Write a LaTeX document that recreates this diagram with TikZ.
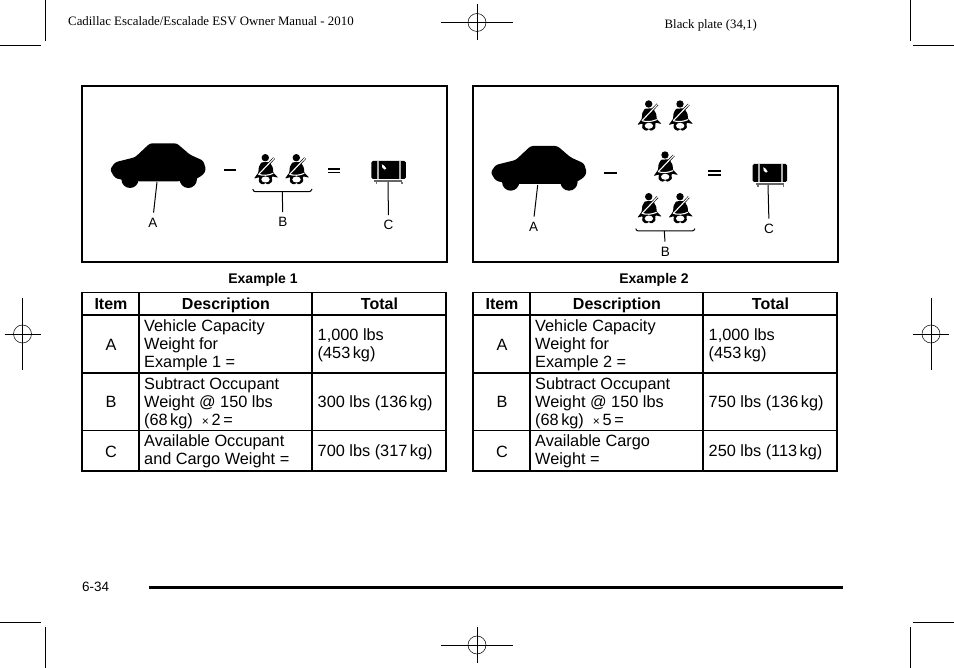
\documentclass[tikz,border=0pt]{standalone}
\usepackage{fontspec}
\setmainfont{Liberation Sans}
\newfontfamily\hdrfont{Liberation Serif}
\usetikzlibrary{positioning,calc}

\tikzset{
  framebox/.style={line width=1.6pt},
  gridline/.style={line width=1.7pt},
  cropline/.style={line width=0.9pt},
  leader/.style={line width=1pt, shorten >=5pt},
  signline/.style={line width=1.1pt},
  celltext/.style={inner sep=0pt, anchor=west, align=left, font=\fontsize{16.3}{17.7}\selectfont},
  itemtext/.style={inner sep=0pt, font=\fontsize{16.3}{18}\selectfont},
  headtext/.style={inner sep=0pt, anchor=base, font=\fontsize{16}{18}\selectfont\bfseries},
  captext/.style={inner sep=0pt, anchor=base, font=\fontsize{14}{16}\selectfont\bfseries},
  lettertext/.style={inner sep=0pt, font=\fontsize{13.5}{14}\selectfont},
  pics/caricon/.style={code={
    \fill[black, rounded corners=2.5pt] (0.7,26.4) -- (5.7,19) -- (25.7,14) -- (40.7,0) -- (67.4,0) -- (80.7,11.4) -- (94,17.4)
      -- (96.7,26.4) -- (94,31.4) -- (85.7,36.4) -- (70,38) -- (29,38) -- (12.4,36.4) -- (5.7,34.7) -- cycle;
    \fill[black] (20.7,36.1) circle (8.6);
    \fill[black] (79,36.1) circle (8.6);
  }},
  pics/seaticon/.style={code={
    \fill[black] (0,0) circle (3.7);
    \fill[black, rounded corners=0.8pt] (-3.8,4.6) -- (4.4,4.4) -- (7.6,10) -- (8,15) -- (13,20) -- (6.6,18.6)
      -- (6.8,24) -- (3.4,26.6) -- (1,26.4) -- (0.2,24.6) -- (-0.8,26.4) -- (-3.6,26.6) -- (-6.6,24) -- (-6,19.4) -- (-11.4,21) -- (-7,15) -- (-6.4,9) -- cycle;
    \draw[black, line width=2.4pt] (8.8,0.4) -- (3.5,6);
    \draw[white, line width=1.1pt] (8.8,0.4) -- (-6.4,16.4);
    \draw[white, line width=1.1pt] (-7,16.6) .. controls (-2,18.2) and (3,17.8) .. (8,15.6);
    \fill[white] (0.2,21.8) ellipse (4.2 and 3);
  }},
  pics/cargoicon/.style={code={
    \fill[black, rounded corners=1.5pt] (0,0) rectangle (34.5,18);
    \fill[gray!65] (5.6,0) rectangle (7.4,18);
    \fill[gray!65] (28,0) rectangle (29.8,18);
    \fill[white] (10.6,3.2) -- (13,4.8) -- (15,7.6) -- (13.2,8.6) -- (11,6.6) -- cycle;
    \fill[black!60] (3,18.8) rectangle (31,20.8);
    \fill[black!55] (4.4,21.2) rectangle (5.8,23);
    \fill[black!55] (30,21.2) rectangle (31.4,23);
  }},
}

\begin{document}
\begin{tikzpicture}[x=1pt, y=-1pt]
\path[use as bounding box, fill=white] (0, 0) rectangle (954, 668);

% crop marks
\draw[cropline] (45, 0) -- (45, 41);
\draw[cropline] (0, 45) -- (41, 45);
\draw[cropline] (910, 0) -- (910, 41);
\draw[cropline] (913, 45) -- (954, 45);
\draw[cropline] (45, 627) -- (45, 668);
\draw[cropline] (0, 622) -- (41, 622);
\draw[cropline] (910, 627) -- (910, 668);
\draw[cropline] (913, 622) -- (954, 622);

% registration targets
\foreach \cx/\cy in {477/22.5, 477/645} {
  \draw[line width=0.5pt] (\cx, \cy) circle (9);
  \draw[cropline] (\cx, \cy-18) -- (\cx, \cy+18);
  \draw[cropline] (\cx-36, \cy) -- (\cx+36, \cy);
}
\foreach \cx/\cy in {22.5/334, 931/334} {
  \draw[line width=0.5pt] (\cx, \cy) circle (9);
  \draw[cropline] (\cx, \cy-36) -- (\cx, \cy+36);
  \draw[cropline] (\cx-18, \cy) -- (\cx+18, \cy);
}

% page header
\node[inner sep=0pt, anchor=west, font=\fontsize{12.85}{14}\selectfont\hdrfont] (manualtitle) at (68, 21.5) {Cadillac Escalade/Escalade ESV Owner Manual - 2010};
\node[inner sep=0pt, anchor=west, font=\fontsize{12.8}{14}\selectfont\hdrfont] (platetitle) at (664.5, 25) {Black plate (34,1)};

% example 1 picture
\draw[framebox] (82, 86) rectangle (447, 262);
\pic at (109.3, 143.3) {caricon};
\pic at (265.3, 157.7) {seaticon};
\pic at (296.3, 157.7) {seaticon};
\pic at (371.3, 161) {cargoicon};
\draw[signline] (224, 170) -- (236, 170);
\draw[signline] (328, 169) -- (340, 169);
\draw[signline] (328, 172.8) -- (340, 172.8);
\draw[line width=1pt] (252.7, 189) .. controls (253.5, 191) and (254, 191.7) .. (255.5, 191.7) -- (309, 191.7) .. controls (310.5, 191.7) and (311, 191) .. (312, 189);
\coordinate (carfoot1) at (157, 182);
\coordinate (seatfoot1) at (282.3, 191.7);
\coordinate (cargofoot1) at (388, 182);
\node[lettertext] (letterA1) at (153, 222.5) {A};
\node[lettertext] (letterB1) at (282.8, 222) {B};
\node[lettertext] (letterC1) at (388.5, 225) {C};
\draw[leader] (carfoot1) -- (letterA1.north);
\draw[leader] (seatfoot1) -- (letterB1.north);
\draw[leader] (cargofoot1) -- (letterC1.north);

% example 2 picture
\draw[framebox] (473, 86) rectangle (838, 262);
\pic at (490, 146) {caricon};
\pic at (648.7, 104) {seaticon};
\pic at (680, 104) {seaticon};
\pic at (665, 155) {seaticon};
\pic at (648.7, 196.7) {seaticon};
\pic at (680, 196.7) {seaticon};
\pic at (752.7, 164) {cargoicon};
\draw[signline] (604, 173) -- (617, 173);
\draw[signline] (708, 171) -- (721, 171);
\draw[signline] (708, 175) -- (721, 175);
\draw[line width=1pt] (635.7, 228.6) .. controls (636.5, 230.4) and (637, 231) .. (638.5, 231) -- (692, 231) .. controls (693.5, 231) and (694, 230.4) .. (695, 228.6);
\coordinate (carfoot2) at (537.7, 185);
\coordinate (seatfoot2) at (664.3, 231);
\coordinate (cargofoot2) at (768, 185);
\node[lettertext] (letterA2) at (533.5, 226.5) {A};
\node[lettertext] (letterB2) at (665.3, 251.5) {B};
\node[lettertext] (letterC2) at (769, 228.5) {C};
\draw[leader] (carfoot2) -- (letterA2.north);
\draw[leader] (seatfoot2) -- (letterB2.north);
\draw[leader] (cargofoot2) -- (letterC2.north);

% captions
\node[captext] (caption1) at (263, 283.5) {Example 1};
\node[captext] (caption2) at (654, 283.5) {Example 2};

% table 1
\draw[gridline] (82, 292.5) rectangle (446, 471);
\draw[gridline] (82, 315) -- (446, 315);
\draw[gridline] (82, 373) -- (446, 373);
\draw[gridline] (82, 430.5) -- (446, 430.5);
\draw[gridline] (139, 292.5) -- (139, 471);
\draw[gridline] (312, 292.5) -- (312, 471);
\node[headtext] (headitem1) at (111, 309.5) {Item};
\node[headtext] (headdesc1) at (226, 309.5) {Description};
\node[headtext] (headtotal1) at (379.5, 309.5) {Total};
\node[itemtext] (itemA1) at (111, 344.5) {A};
\node[itemtext] (itemB1) at (111, 402) {B};
\node[itemtext] (itemC1) at (111, 452) {C};
\node[celltext] (descA1) at (144, 345.3) {Vehicle Capacity\\Weight for\\Example 1 =};
\node[celltext] (descB1) at (144, 403.3) {Subtract Occupant\\Weight @ 150 lbs\\(68\hspace{2.5pt}kg)\ \ {\fontsize{12}{12}\selectfont ×}\,2\,=};
\node[celltext] (descC1) at (144, 451.5) {Available Occupant\\and Cargo Weight =};
\node[celltext] (totalA1) at (317.5, 345) {1,000 lbs\\(453\hspace{2.5pt}kg)};
\node[celltext] (totalB1) at (317.5, 403) {300 lbs (136\hspace{2.5pt}kg)};
\node[celltext] (totalC1) at (317.5, 452) {700 lbs (317\hspace{2.5pt}kg)};

% table 2
\draw[gridline] (473, 292.5) rectangle (837, 471);
\draw[gridline] (473, 315) -- (837, 315);
\draw[gridline] (473, 373) -- (837, 373);
\draw[gridline] (473, 430.5) -- (837, 430.5);
\draw[gridline] (530, 292.5) -- (530, 471);
\draw[gridline] (703, 292.5) -- (703, 471);
\node[headtext] (headitem2) at (502, 309.5) {Item};
\node[headtext] (headdesc2) at (617, 309.5) {Description};
\node[headtext] (headtotal2) at (770.5, 309.5) {Total};
\node[itemtext] (itemA2) at (502, 344.5) {A};
\node[itemtext] (itemB2) at (502, 402) {B};
\node[itemtext] (itemC2) at (502, 452) {C};
\node[celltext] (descA2) at (535, 345.3) {Vehicle Capacity\\Weight for\\Example 2 =};
\node[celltext] (descB2) at (535, 403.3) {Subtract Occupant\\Weight @ 150 lbs\\(68\hspace{2.5pt}kg)\ \ {\fontsize{12}{12}\selectfont ×}\,5\,=};
\node[celltext] (descC2) at (535, 451.5) {Available Cargo\\Weight =};
\node[celltext] (totalA2) at (708.5, 345) {1,000 lbs\\(453\hspace{2.5pt}kg)};
\node[celltext] (totalB2) at (708.5, 403) {750 lbs (136\hspace{2.5pt}kg)};
\node[celltext] (totalC2) at (708.5, 452) {250 lbs (113\hspace{2.5pt}kg)};

% page footer
\node[inner sep=0pt, anchor=west, font=\fontsize{13.5}{15}\selectfont] (pagenumber) at (82, 587) {6-34};
\fill[black] (149, 585.5) rectangle (843, 589);
\end{tikzpicture}
\end{document}
